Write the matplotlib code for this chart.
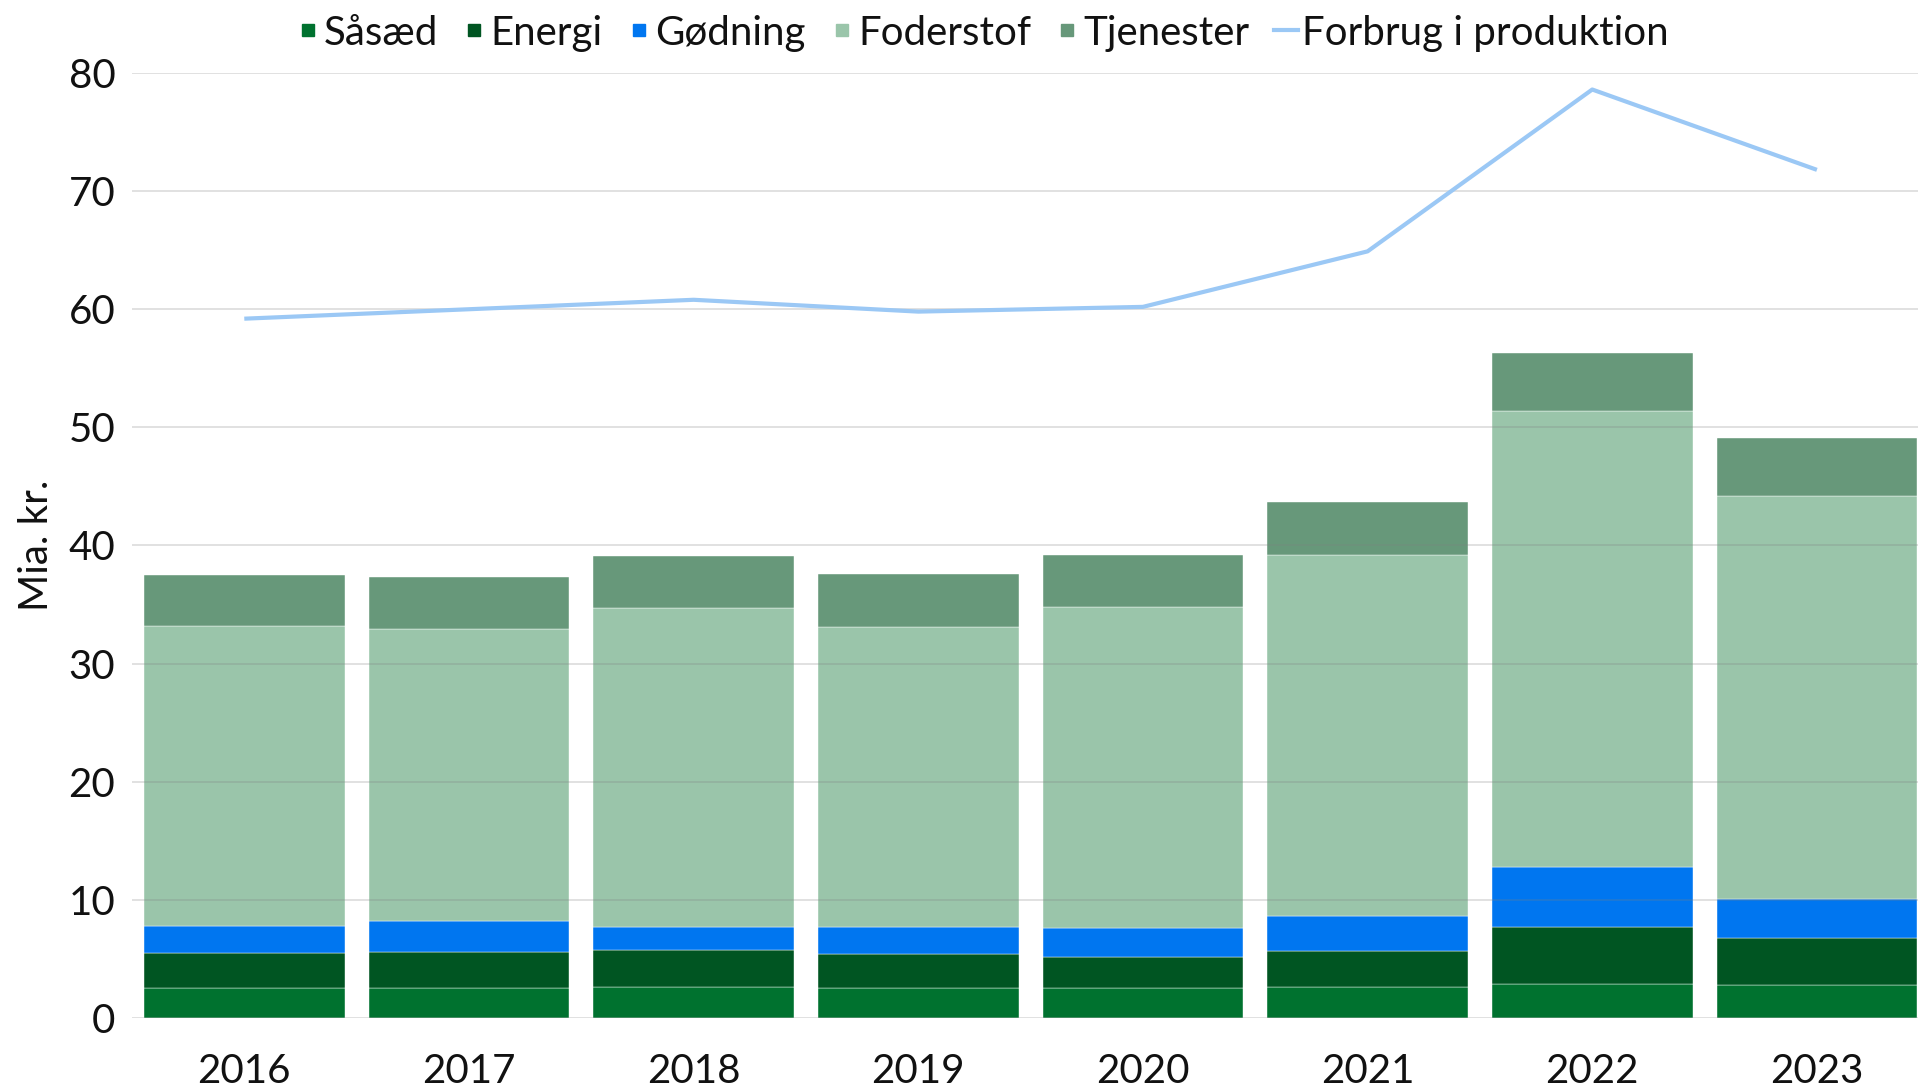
import numpy as np
import matplotlib.pyplot as plt
from matplotlib.lines import Line2D

plt.rcParams['font.family'] = ['Lato', 'DejaVu Sans']

years = ['2016', '2017', '2018', '2019', '2020', '2021', '2022', '2023']

# layer sizes in bn DKK, stacked from the bottom
saasaed = [2.5, 2.5, 2.6, 2.5, 2.5, 2.6, 2.9, 2.8]
energi = [3.0, 3.1, 3.2, 2.9, 2.7, 3.1, 4.8, 4.0]
goedning = [2.3, 2.6, 1.9, 2.3, 2.4, 2.9, 5.1, 3.3]
foderstof = [25.4, 24.7, 27.0, 25.4, 27.2, 30.6, 38.6, 34.1]
tjenester = [4.3, 4.4, 4.4, 4.5, 4.4, 4.5, 4.9, 4.9]
forbrug = [59.2, 60.0, 60.8, 59.8, 60.2, 64.9, 78.6, 71.8]

series = [
    ('Såsæd', saasaed, '#00722F'),
    ('Energi', energi, '#005522'),
    ('Gødning', goedning, '#0076F0'),
    ('Foderstof', foderstof, '#9AC5AA'),
    ('Tjenester', tjenester, '#67987A'),
]

fig = plt.figure(figsize=(19.18, 10.86), dpi=100)
ax = fig.add_axes([0.0688, 0.0626, 0.9312, 0.8702])

x = np.arange(len(years))
bottom = np.zeros(len(years))
handles = []
for name, vals, col in series:
    ax.bar(x, vals, width=0.893, bottom=bottom, color=col, zorder=2,
           edgecolor='#ffffff', linewidth=0.3)
    bottom += np.array(vals)
    handles.append(Line2D([], [], marker='s', linestyle='none', color=col,
                          markersize=9, label=name))

ax.plot(x, forbrug, color='#9BC8F5', lw=3.0, zorder=4, solid_capstyle='butt')
handles.append(Line2D([], [], color='#9BC8F5', lw=3.0, label='Forbrug i produktion'))

for v in range(0, 81, 10):
    ax.axhline(v, color='#7f7f7f', alpha=0.3, lw=1.1, zorder=3)

ax.set_xlim(-0.5, 7.45)
ax.set_ylim(0, 80)
ax.set_yticks(range(0, 81, 10))
ax.set_xticks(x)
ax.set_xticklabels(years)
ax.tick_params(length=0, labelsize=29, colors='#111111')
ax.tick_params(axis='x', pad=25)
ax.tick_params(axis='y', pad=12)
for s in ax.spines.values():
    s.set_visible(False)
ax.set_ylabel('Mia. kr.', fontsize=29, color='#111111', labelpad=10)

fig.legend(handles=handles, loc='upper center', bbox_to_anchor=(0.512, 1.02),
           ncol=6, frameon=False, fontsize=29, handlelength=0.6,
           handletextpad=0.1, columnspacing=0.6, labelcolor='#111111')

fig.savefig('out.png', dpi=100)
